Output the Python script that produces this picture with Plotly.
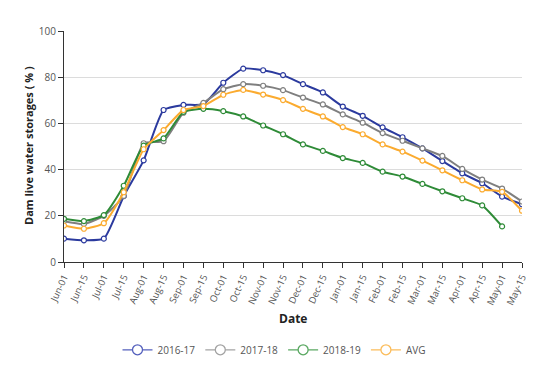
import plotly.graph_objects as go

dates = ["Jun-01", "Jun-15", "Jul-01", "Jul-15", "Aug-01", "Aug-15", "Sep-01", "Sep-15",
         "Oct-01", "Oct-15", "Nov-01", "Nov-15", "Dec-01", "Dec-15", "Jan-01", "Jan-15",
         "Feb-01", "Feb-15", "Mar-01", "Mar-15", "Apr-01", "Apr-15", "May-01", "May-15"]

s2016_17 = [10.1, 9.4, 10.1, 28.5, 44.0, 65.8, 68.0, 68.3, 77.6, 83.7, 83.0, 80.9,
            77.0, 73.4, 67.3, 63.3, 58.3, 54.0, 49.2, 43.7, 38.4, 34.1, 28.3, 25.0]
s2017_18 = [17.7, 16.5, 20.0, 28.6, 51.4, 52.3, 64.6, 68.9, 74.8, 77.0, 76.3, 74.4,
            71.2, 68.2, 63.9, 60.3, 55.8, 52.5, 49.2, 45.9, 40.3, 35.7, 31.8, 26.2]
s2018_19 = [18.7, 17.7, 20.3, 33.0, 50.4, 53.5, 65.0, 66.3, 65.3, 63.0, 59.1, 55.3,
            50.9, 48.1, 45.0, 42.9, 39.1, 37.0, 33.8, 30.6, 27.6, 24.5, 15.4, None]
s_avg = [15.8, 14.4, 16.8, 30.2, 48.8, 57.1, 65.8, 67.5, 72.4, 74.5, 72.5, 70.1,
         66.3, 63.0, 58.4, 55.3, 50.9, 47.8, 43.9, 39.7, 35.4, 31.4, 30.4, 22.2]

series = [("2016-17", s2016_17, "#2b3a9e", "#5561bd"),
          ("2017-18", s2017_18, "#7f7f7f", "#a3a3a3"),
          ("2018-19", s2018_19, "#2e8b37", "#5aa862"),
          ("AVG", s_avg, "#fbab2f", "#fbbc5a")]

fig = go.Figure()
for name, vals, col, lcol in series:
    fig.add_trace(go.Scatter(
        x=dates, y=vals, name=name, mode="lines+markers", showlegend=False,
        legendgroup=name,
        line=dict(color=col, width=2, shape="spline", smoothing=0.5),
        marker=dict(symbol="circle", size=5, color="white", line=dict(color=col, width=1.2)),
    ))
# legend entries (no data, larger symbol as in the reference legend)
for name, vals, col, lcol in series:
    fig.add_trace(go.Scatter(
        x=[None], y=[None], name=name, mode="lines+markers", legendgroup=name,
        line=dict(color=lcol, width=1.2),
        marker=dict(symbol="circle", size=10, color="white", line=dict(color=lcol, width=1.3)),
    ))

font_family = "Open Sans, DejaVu Sans, sans-serif"
fig.update_layout(
    width=554, height=374,
    margin=dict(l=64, r=32, t=31, b=112, autoexpand=False),
    paper_bgcolor="white", plot_bgcolor="white",
    font=dict(family=font_family, size=10, color="#555"),
    showlegend=True,
    legend=dict(orientation="h", x=(274 - 64) / 458, xanchor="center", y=-0.38, yanchor="middle",
                font=dict(size=10, color="#555"), itemwidth=30),
    xaxis=dict(
        type="category", tickangle=-65, showgrid=False, automargin=False,
        showline=True, linecolor="#333", linewidth=1,
        ticks="outside", ticklen=5, tickcolor="#333",
        tickfont=dict(size=9.5, color="#555"),
        range=[0, 23],
    ),
    yaxis=dict(
        range=[0, 100], dtick=20, showgrid=True, gridcolor="#dcdcdc", gridwidth=1,
        showline=True, linecolor="#333", linewidth=1, automargin=False,
        ticks="outside", ticklen=5, tickcolor="#333",
        tickfont=dict(size=10, color="#555"), zeroline=False,
    ),
    annotations=[
        dict(text="<b>Date</b>", x=0.5, y=(262 - 318) / 231, xref="paper", yref="paper",
             xanchor="center", yanchor="middle",
             showarrow=False, font=dict(size=12, color="#222")),
        dict(text="<b>Dam live water storages ( % )</b>", x=(28 - 64) / 458, y=(262 - 146) / 231,
             xref="paper", yref="paper", textangle=-90, showarrow=False,
             xanchor="center", yanchor="middle",
             font=dict(size=11, color="#222")),
    ],
)

fig.write_html("out.html", config={"displayModeBar": False},
               post_script="document.body.style.margin='0px';document.body.style.overflow='hidden';")
